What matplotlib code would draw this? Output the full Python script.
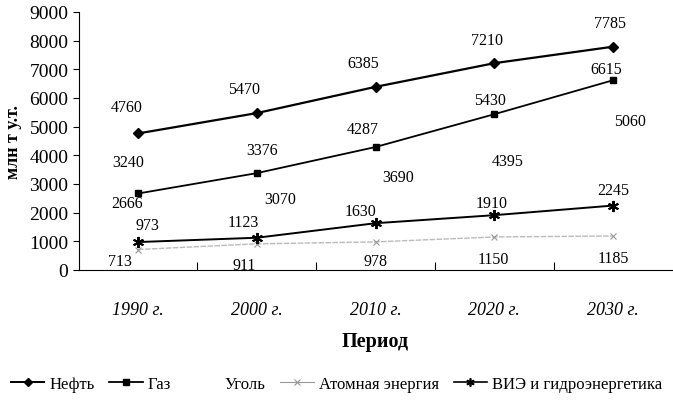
import matplotlib.pyplot as plt
from matplotlib.lines import Line2D

periods = ["1990 г.", "2000 г.", "2010 г.", "2020 г.", "2030 г."]
oil = [4760, 5470, 6385, 7210, 7785]
gas = [2666, 3376, 4287, 5430, 6615]
coal = [3240, 3070, 3690, 4395, 5060]
nuclear = [713, 911, 978, 1150, 1185]
renew = [973, 1123, 1630, 1910, 2245]

plt.rcParams['font.family'] = ['Liberation Serif', 'DejaVu Serif']

fig = plt.figure(figsize=(6.73, 4.02), dpi=100)
ax = fig.add_axes([0.117, 0.326, 0.882, 0.642])
x = range(len(periods))

ax.plot(x, oil, color='black', lw=1.6, marker='D', ms=5)
ax.plot(x, gas, color='black', lw=1.3, marker='s', ms=5)
ax.plot(x, coal, color='none', lw=1.0)
ax.plot(x, nuclear, color='#bbbbbb', lw=1.0, ls=(0, (4, 1)), marker='x', ms=5,
        mec='#999999', mew=0.8)
ax.plot(x, renew, color='black', lw=1.4, marker=(6, 2, 0), ms=8, mew=1.4)

fs = 11.5
# label offsets in points (dx, dy)
oil_off = [(-8, 19), (-9, 17), (-9, 17), (-5, 17), (-2, 17)]
gas_off = [(-8, -7), (4, 17), (-9, 13), (-3, 10), (-5, 8)]
coal_off = [(-7, 11), (17, -12), (16, -9), (10, -12), (12, 3)]
nuc_off = [(-13, -8), (-9, -15), (0, -14), (-1, -16), (0, -16)]
ren_off = [(7, 12), (-10, 11), (-11, 9), (-2, 9), (0, 11)]
for vals, offs in [(oil, oil_off), (gas, gas_off), (coal, coal_off),
                   (nuclear, nuc_off), (renew, ren_off)]:
    for i, v in enumerate(vals):
        ax.annotate(str(v), (i, v), xytext=offs[i], textcoords='offset points',
                    ha='center', va='center', fontsize=fs)

ax.set_xlim(-0.5, 4.5)
ax.set_ylim(0, 9000)
ax.set_yticks(range(0, 9001, 1000))
ax.set_xticks([i + 0.5 for i in range(4)])
ax.set_xticklabels([])
ax.set_xticks(list(x), minor=True)
ax.set_xticklabels(periods, minor=True, style='italic', fontsize=13)
ax.tick_params(axis='x', which='minor', length=0, pad=22)
ax.tick_params(axis='x', which='major', direction='in', length=6)
ax.tick_params(axis='y', labelsize=14, length=4, direction='out')
for s in ['top', 'right']:
    ax.spines[s].set_visible(False)
ax.spines['left'].set_linestyle((0, (6, 1)))
ax.spines['left'].set_linewidth(0.8)
ax.spines['bottom'].set_linewidth(0.8)

ax.set_ylabel("млн т у.т.", fontweight='bold', fontsize=13, labelpad=5)
ax.set_xlabel("Период", fontweight='bold', fontsize=14.5, labelpad=10)

handles = [
    Line2D([], [], color='black', lw=1.4, marker='D', ms=4),
    Line2D([], [], color='black', lw=1.3, marker='s', ms=4),
    Line2D([], [], color='none'),
    Line2D([], [], color='#999999', lw=0.8, marker='x', ms=4, mew=0.8),
    Line2D([], [], color='black', lw=1.2, marker=(6, 2, 0), ms=6, mew=1.2),
]
labels = ["Нефть", "Газ", "Уголь", "Атомная энергия", "ВИЭ и гидроэнергетика"]
fig.legend(handles, labels, loc='center', bbox_to_anchor=(0.5, 0.042), ncol=5,
           frameon=False, fontsize=12, handlelength=2.0, handletextpad=0.3,
           columnspacing=0.9)

plt.savefig("out.png", dpi=100)
